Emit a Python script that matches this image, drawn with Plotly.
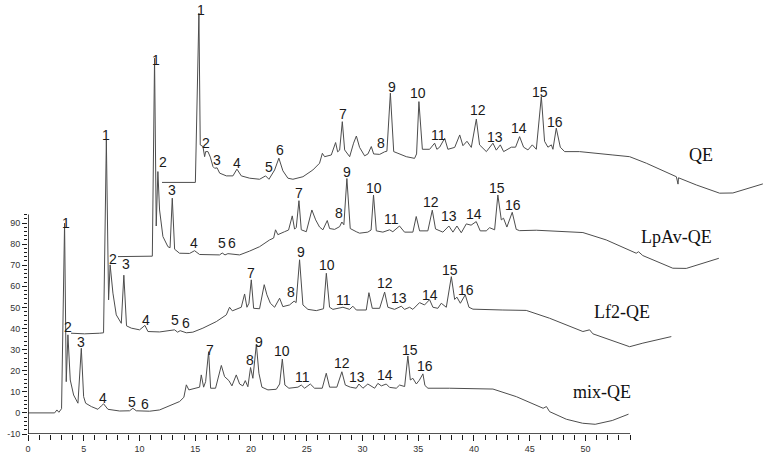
import plotly.graph_objects as go

# ---------------- data (each chromatogram in its own local time / signal units) -------------
mix_t = [0, 2.39, 2.59, 2.77, 3.01, 3.28, 3.43, 3.58, 3.79, 4.09, 4.48, 4.78, 4.99, 5.17, 5.68, 6.27, 6.57,
         6.78, 7.17, 8.22, 9.11, 9.41, 9.71, 10.91, 11.8, 12.7, 13.6, 13.98, 14.2, 14.43, 15.09, 15.39, 15.54,
         15.75, 15.93, 16.2, 16.38, 16.82, 17.34, 17.63, 18.02, 18.29, 18.68, 18.98, 19.27, 19.49, 19.72, 19.96,
         20.17, 20.48, 20.71, 20.98, 21.52, 22.27, 22.57, 22.81, 23.04, 23.4, 24.21, 24.51, 24.81, 25.32, 25.7,
         26.39, 26.75, 27.05, 27.7, 28.15, 28.46, 28.91, 29.44, 29.68, 30.04, 30.48, 31.09, 31.38, 31.69, 32.13,
         32.43, 33.03, 33.33, 33.78, 34.07, 34.29, 34.52, 34.83, 35.1, 35.42, 35.6, 35.87, 37.8, 41.7, 43.8,
         46.2, 46.5, 46.78, 48.28, 49.74, 50.87, 52.4, 53.86]
mix_v = [0, 0, 1.4, 0.3, 2, 89.9, 14.8, 37, 15.6, 8.5, 4.6, 30.6, 7.7, 4.6, 3, 1.7, 3.3,
         4.3, 1.7, 0.9, 1.0, 2.2, 1.0, 0.8, 1.4, 3.3, 5.4, 7.4, 13.3, 10.9, 11.7, 12.2, 18,
         12.2, 14.8, 29, 11.7, 11.7, 22.5, 17.2, 15.3, 12.8, 18, 13.7, 12.8, 15.3, 12.4, 21.5,
         16.4, 32.5, 18.8, 12.2, 10.9, 11.2, 13.7, 25.5, 13.2, 11.7, 12.2, 13.2, 11.7, 13.7, 11.7,
         11.7, 18.8, 12.2, 12.2, 19.5, 13.2, 12.2, 11.7, 13.7, 11.7, 13.7, 11.7, 14.0, 12.8, 13.7,
         12.1, 11.7, 13.2, 12.5, 27, 15.6, 16.4, 13.7, 15.5, 18.5, 13, 11.7, 11.7, 11.3, 7.7,
         2.2, 3.0, 0.6, -3.0, -4.9, -5.4, -3.6, -0.6]

lf2_t = [0, 1.22, 2.57, 2.92, 3.17, 3.37, 3.51, 3.76, 4.06, 4.51, 4.74, 4.98, 5.41, 6.15, 6.63, 6.9, 7.95,
         9.29, 9.56, 9.79, 10.34, 10.93, 11.83, 13.03, 13.93, 14.22, 14.47, 15.27, 15.57, 15.78, 15.96, 16.17,
         16.38, 16.91, 17.33, 17.57, 17.88, 18.26, 18.71, 19.0, 19.6, 20.01, 20.19, 20.5, 20.8, 21.25, 22.0,
         22.65, 22.9, 23.19, 23.49, 24.39, 24.99, 25.28, 25.59, 26.48, 26.72, 27.02, 27.68, 28.13, 28.42,
         29.02, 29.62, 29.92, 30.37, 30.66, 31.26, 31.71, 32.16, 32.46, 32.9, 33.21, 33.66, 34.11, 34.41,
         34.61, 34.92, 35.36, 35.69, 36.05, 38.73, 40.83, 42.92, 45.91, 46.51, 46.81, 50.1, 51.29, 53.84]
lf2_v = [0, -0.3, 0, 0.2, 91.6, 15.8, 32.4, 19, 8.7, 4.7, 27.5, 3.5, 2.4, 1.6, 3.7, 0.8, 0.6,
         1.6, 0.5, 1.2, 0.2, 0.5, 2.4, 5.5, 8.7, 12.3, 10.6, 12.3, 18.6, 12.3, 14.2, 25.3,
         11.8, 11.6, 23, 18.2, 14.2, 12.3, 16.6, 12.6, 13.4, 15.2, 14.5, 34.8, 13.4, 11.3, 10.7,
         11.6, 28.4, 12.3, 11.3, 12.3, 11.3, 12.8, 11, 11, 19.2, 11.8, 11.8, 19.5, 12.3,
         11.3, 12.8, 11.3, 12.3, 11.3, 14.5, 13.4, 15.9, 12.3, 11.8, 14.2, 12.3, 26.8, 16.0,
         17.1, 14.2, 18.2, 12.3, 11.4, 11, 10.8, 7.1, 0.8, 1.6, -0.3, -6.4, -4.7, -1.6]

lpav_t = [0, 1.49, 3.08, 3.28, 3.43, 3.58, 3.73, 4.03, 4.48, 4.67, 4.87, 5.08, 5.52, 6.42, 6.87, 7.32, 9.11,
          9.35, 9.6, 9.86, 10.91, 11.8, 12.7, 13.6, 13.96, 14.13, 14.34, 14.94, 15.3, 15.63, 15.84, 15.99,
          16.23, 16.44, 16.89, 17.39, 17.73, 18.08, 18.38, 18.77, 18.98, 19.43, 19.88, 20.08, 20.26, 20.53,
          20.83, 21.37, 21.67, 22.41, 22.7, 22.92, 23.17, 23.76, 24.36, 24.65, 25.25, 25.7, 26.45, 26.75,
          27.05, 27.79, 28.19, 28.48, 29.14, 29.68, 30.04, 30.4, 30.79, 31.24, 31.67, 32.13, 32.49, 33.03,
          33.33, 33.78, 34.07, 34.38, 34.58, 34.88, 35.36, 35.72, 36.02, 37.52, 41.7, 43.79, 46.48, 46.69,
          47.07, 49.76, 50.97, 53.89]
lpav_v = [0, 0, 0.2, 94, 14.5, 40.3, 22.1, 9.5, 4.7, 4.2, 27.7, 3.5, 1.6, 1.5, 2.8, 1.0, 0.8,
          1.7, 0.8, 1.4, 0.8, 2.6, 4.7, 7.9, 8.8, 12.7, 10.4, 11.8, 12.6, 19.3, 13, 13.8,
          26.5, 12.7, 11.8, 22.1, 17.4, 14, 12.7, 17.1, 13.3, 12.9, 14.2, 16.4, 15.1, 37,
          13.3, 11.8, 11.1, 11.6, 12.6, 29.2, 12.2, 11.6, 12.7, 11.8, 14.5, 11.6, 11.6, 19,
          12.2, 12.2, 22, 13.1, 11.6, 14.5, 11.6, 14.5, 11.3, 15.5, 14.9, 16.6, 12.2, 12.2,
          13.7, 12.7, 29.2, 17.4, 18.2, 14, 21, 12.9, 12.3, 12.5, 11.4, 7.9, 1.6, 2.3,
          0.5, -5.5, -5.6, -0.8]

qe_t = [0, 1.58, 2.99, 3.31, 3.43, 3.67, 3.82, 3.91, 4.12, 4.33, 4.57, 4.72, 4.94, 5.17, 5.77, 6.36, 6.72,
        7.11, 7.86, 8.75, 9.29, 9.59, 10.1, 10.48, 10.84, 11.29, 11.74, 12.64, 13.53, 14.13, 14.38, 14.58,
        15.18, 15.57, 15.75, 15.93, 16.17, 16.38, 16.83, 17.18, 17.43, 17.72, 18.17, 18.47, 18.77, 18.98,
        19.52, 19.96, 20.17, 20.48, 20.78, 21.16, 21.91, 22.65, 22.83, 23.04, 23.35, 24.0, 24.45, 24.65,
        24.9, 25.35, 25.64, 26.25, 26.7, 26.99, 27.35, 27.74, 28.19, 28.48, 29.09, 29.68, 29.98, 30.34,
        30.64, 31.33, 31.71, 32.07, 32.43, 32.82, 33.21, 33.57, 34.02, 34.31, 34.61, 34.92, 35.06, 35.36,
        35.72, 36.11, 37.45, 40.44, 41.94, 43.44, 46.13, 46.28, 46.32, 47.92, 50.01, 51.2, 53.89]
qe_v = [0, 0, 0, 80.2, 17.8, 17, 12.2, 14.6, 14.6, 12, 7.5, 6.7, 6.9, 4.4, 3.1, 3.1, 6.3,
        3.1, 2, 1.5, 3.1, 1.5, 5.9, 11.5, 5.5, 2, 1.5, 2.7, 5.9, 9.1, 13.8, 12.2,
        13, 18.9, 14.5, 15.3, 28.8, 15.4, 12.2, 18.6, 22, 16.6, 12.6, 13.5, 17, 13.5,
        13.3, 14.5, 14.8, 42.3, 14.6, 13.8, 12.2, 11.4, 13.5, 38.3, 15.7, 15.7, 18.6, 15.7,
        16.7, 20.9, 15.7, 16.6, 22.5, 17.4, 19.5, 16.6, 30, 17.8, 14.6, 18.6, 15.3, 17.8,
        14.6, 16.7, 16.7, 21.7, 16.7, 15.4, 17.8, 15.7, 40.7, 19.5, 16.7, 17.8, 15.7, 25.7,
        16.7, 14.6, 14.6, 13, 12.2, 9.1, 2.7, -0.8, 2.2, -1.2, -5.1, -5.0, -0.7]

trace_names = ["mix-QE", "Lf2-QE", "LpAv-QE", "QE"]
peak_numbers = [str(i) for i in range(1, 17)]

# peak-number label positions (local units)
mix_lab_t = [3.43, 3.58, 4.78, 6.72, 9.35, 10.46, 16.29, 19.88, 20.71, 22.8, 24.6, 28.19, 29.55, 31.98, 34.22, 35.57]
mix_lab_v = [90.2, 40.9, 33.8, 7.0, 5.4, 4.3, 29.9, 25.1, 33.8, 29.5, 16.9, 23.5, 17.2, 18.0, 29.9, 22.0]
lf2_lab_t = [3.17, 3.76, 4.9, 6.69, 9.29, 10.28, 16.17, 19.76, 20.59, 22.99, 24.45, 28.13, 29.38, 32.16, 34.02, 35.45]
lf2_lab_v = [94, 35.1, 32.7, 6.3, 6.3, 5.0, 28.4, 19.7, 38.7, 32.4, 15.8, 23.7, 16.6, 18.2, 30, 20.5]
lpav_lab_t = [3.37, 4.03, 4.87, 6.81, 9.35, 10.25, 16.2, 19.81, 20.53, 22.92, 24.51, 28.1, 29.68, 31.89, 34.02, 35.42]
lpav_lab_v = [93.2, 45, 31.6, 6.4, 6.4, 6.4, 30, 20.6, 40.3, 32.4, 17.7, 26.1, 19.3, 20.2, 32.4, 24.5]
qe_lab_t = [3.52, 3.97, 4.92, 6.72, 9.56, 10.55, 16.22, 19.67, 20.62, 22.95, 24.83, 28.33, 29.83, 32.01, 33.86, 35.27]
qe_lab_v = [81.8, 18.6, 10.7, 9.1, 7.2, 15.4, 32.5, 18.9, 45.1, 42.3, 22.5, 34.4, 21.7, 25.7, 43, 28.8]

x_ticks = list(range(0, 51, 5))
y_ticks = list(range(-10, 91, 10))

# ---------------- layout constants (stacking offsets, styles) ----------------
X_SHIFT = [0, 3.857, 8.07, 12.02]
Y_SHIFT = [0, 37.77, 74.08, 109.24]
NAME_POS = [(51.49, 10.0), (53.28, 48.0), (58.17, 83.6), (60.38, 122.2)]
LINE_COLOR = "#4d4d4d"
AX_COLOR = "#1a1a1a"

series = [(mix_t, mix_v, mix_lab_t, mix_lab_v),
          (lf2_t, lf2_v, lf2_lab_t, lf2_lab_v),
          (lpav_t, lpav_v, lpav_lab_t, lpav_lab_v),
          (qe_t, qe_v, qe_lab_t, qe_lab_v)]

fig = go.Figure()
annotations = []
for i, (t, v, lt, lv) in enumerate(series):
    dx, dy = X_SHIFT[i], Y_SHIFT[i]
    fig.add_trace(go.Scatter(
        x=[a + dx for a in t], y=[b + dy for b in v], mode="lines",
        line=dict(color=LINE_COLOR, width=1), name=trace_names[i],
        showlegend=False, hoverinfo="skip"))
    for n, a, b in zip(peak_numbers, lt, lv):
        annotations.append(dict(x=a + dx, y=b + dy, text=n, showarrow=False,
                                xanchor="center", yanchor="middle",
                                font=dict(family="Liberation Sans, Arial", size=14, color="#1a1a1a")))
    nx, ny = NAME_POS[i]
    annotations.append(dict(x=nx, y=ny, text=trace_names[i], showarrow=False,
                            xanchor="center", yanchor="middle",
                            font=dict(family="Liberation Serif, Times New Roman", size=18, color="#111")))

minor_x = [v for v in range(0, 55) if v % 5 != 0]
minor_y = [v for v in range(-10, 95, 2) if v % 10 != 0]

fig.update_layout(
    width=767, height=453,
    margin=dict(l=28, r=0, t=0, b=19, autoexpand=False),
    paper_bgcolor="white", plot_bgcolor="white",
    annotations=annotations,
    shapes=[
        dict(type="line", xref="x", yref="y", x0=0, x1=54, y0=-10, y1=-10,
             line=dict(color=AX_COLOR, width=1.6)),
        dict(type="line", xref="x", yref="y", x0=0, x1=0, y0=-10, y1=94,
             line=dict(color=AX_COLOR, width=1.6)),
    ],
    xaxis=dict(range=[0, 66.28], showgrid=False, zeroline=False, showline=False,
               tickmode="array", tickvals=x_ticks, ticktext=[str(v) for v in x_ticks],
               ticks="outside", ticklen=6, tickwidth=1.2, tickcolor=AX_COLOR,
               minor=dict(tickmode="array", tickvals=minor_x, ticks="outside",
                          ticklen=5, tickwidth=1.2, tickcolor=AX_COLOR),
               tickfont=dict(family="Liberation Sans, Arial", size=9, color="#333"),
               automargin=False),
    yaxis=dict(range=[-10, 195.7], showgrid=False, zeroline=False, showline=False,
               tickmode="array", tickvals=y_ticks, ticktext=[str(v) for v in y_ticks],
               ticks="outside", ticklen=5, tickwidth=1.2, tickcolor=AX_COLOR,
               minor=dict(tickmode="array", tickvals=minor_y, ticks="outside",
                          ticklen=3, tickwidth=1, tickcolor=AX_COLOR),
               tickfont=dict(family="Liberation Sans, Arial", size=9, color="#333"),
               automargin=False),
)

fig.write_html("out.html")
